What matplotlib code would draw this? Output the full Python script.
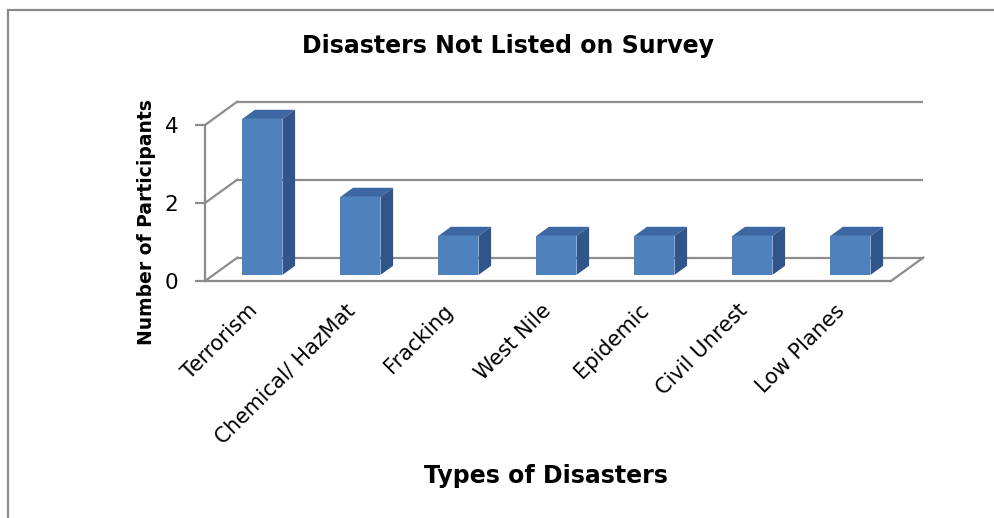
import matplotlib
matplotlib.use("Agg")
import matplotlib.pyplot as plt
from matplotlib.patches import Polygon, Rectangle
from matplotlib.transforms import ScaledTranslation

# survey write-ins: disaster type and how many participants named it
categories = ["Terrorism", "Chemical/ HazMat", "Fracking", "West Nile",
              "Epidemic", "Civil Unrest", "Low Planes"]
participants = [4, 2, 1, 1, 1, 1, 1]
y_ticks = [0, 2, 4]

# fake 3d look: depth offset of the back wall in data units
DX, DY = 0.33, 0.60
BAR_D0, BAR_DT = 0.26, 0.39   # bar front / thickness as fraction of depth
BAR_W = 0.41

GRID = "#8c8c8c"
FRONT, TOP, SIDE = "#4f81bd", "#3c67a2", "#30558a"

W, H = 995, 518
fig = plt.figure(figsize=(W / 100, H / 100), dpi=100)
fig.patch.set_facecolor("white")

# chart frame, only left and top edges are inside the picture
fig.add_artist(Rectangle((8 / W, -0.1), 1.2, 1.1 - 10 / H,
                         transform=fig.transFigure, fill=False,
                         edgecolor="#8a8a8a", linewidth=1.6))

# front plane of the plot area
ax = fig.add_axes([205 / W, (H - 281) / H, 686 / W, 156 / H])
n = len(categories)
ax.set_xlim(0, n)
ax.set_ylim(0, max(y_ticks))
ax.patch.set_alpha(0)

for s in ["top", "right"]:
    ax.spines[s].set_visible(False)
for s in ["left", "bottom"]:
    ax.spines[s].set_color(GRID)
    ax.spines[s].set_linewidth(1.6)

# back wall gridlines and side wall diagonals
for v in y_ticks:
    ax.plot([DX, n + DX], [v + DY, v + DY], color=GRID, lw=1.6,
            clip_on=False, zorder=1, solid_capstyle="butt")
    ax.plot([0, DX], [v, v + DY], color=GRID, lw=1.6,
            clip_on=False, zorder=1)
# right edge of the floor
ax.plot([n, n + DX], [0, DY], color=GRID, lw=1.6, clip_on=False, zorder=1)

ax.set_yticks(y_ticks)
ax.set_yticklabels([str(v) for v in y_ticks], fontsize=15.5)
ax.tick_params(axis="y", length=7, width=1.6, color=GRID, pad=12)

ax.set_xticks([i + 0.5 for i in range(n)])
ax.set_xticklabels(categories, rotation=45, ha="right",
                   rotation_mode="anchor", fontsize=15)
ax.tick_params(axis="x", length=0, pad=14)
# nudge the slanted labels a bit to the left
shift = ScaledTranslation(-7 / 100, 0, fig.dpi_scale_trans)
for lab in ax.get_xticklabels():
    lab.set_transform(lab.get_transform() + shift)

# bars: front face through ax.bar, then top and side faces
x0 = [i + 0.5 + BAR_D0 * DX for i in range(n)]
base = BAR_D0 * DY
ax.bar(x0, participants, width=BAR_W, bottom=base, color=FRONT,
       zorder=3, clip_on=False)
ddx, ddy = BAR_DT * DX, BAR_DT * DY
for xc, v in zip(x0, participants):
    xl, xr = xc - BAR_W / 2, xc + BAR_W / 2
    top = base + v
    ax.add_patch(Polygon([(xl, top), (xr, top), (xr + ddx, top + ddy),
                          (xl + ddx, top + ddy)], closed=True,
                         facecolor=TOP, edgecolor="none", zorder=3,
                         clip_on=False))
    ax.add_patch(Polygon([(xr, base), (xr, top), (xr + ddx, top + ddy),
                          (xr + ddx, base + ddy)], closed=True,
                         facecolor=SIDE, edgecolor="none", zorder=3,
                         clip_on=False))

fig.text(508 / W, 1 - 46 / H, "Disasters Not Listed on Survey",
         ha="center", va="center", fontsize=17, fontweight="bold")
fig.text(546 / W, 1 - 476 / H, "Types of Disasters",
         ha="center", va="center", fontsize=17, fontweight="bold")
fig.text(147 / W, 1 - 222 / H, "Number of Participants", rotation=90,
         ha="center", va="center", fontsize=13.5, fontweight="bold")

fig.savefig("out.png", dpi=100)
